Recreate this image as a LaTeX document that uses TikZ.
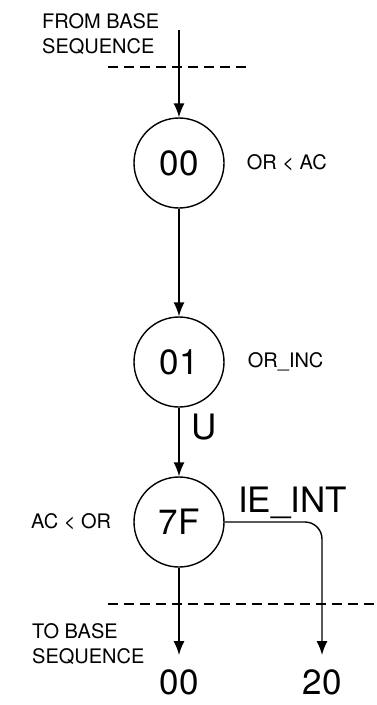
\documentclass[tikz,border=0pt]{standalone}
\usepackage{fontspec}
\setmainfont{TeX Gyre Heros}
\usetikzlibrary{arrows.meta,positioning}

\begin{document}
\begin{tikzpicture}[x=1pt,y=1pt,
        state/.style={
          circle, draw, line width=1.4pt,
          minimum size=90pt, inner sep=0pt,
          font=\fontsize{35}{35}\selectfont
        },
        note/.style={font=\fontsize{20}{25}\selectfont, align=left, inner sep=0pt},
        big/.style={font=\fontsize{35}{35}\selectfont, inner sep=0pt},
        exit/.style={big, outer ysep=15pt},
        flow/.style={-{Latex[length=14pt,width=11pt]}, line width=1.4pt},
        cut/.style={dash pattern=on 10pt off 6pt, line width=1.2pt}]

        \useasboundingbox (0,0) rectangle (377,-705);

        % States
        \node (s00) [state] at (179,-163) {00};
        \node (s01) [state] at (179,-362) {01};
        \node (s7F) [state] at (179,-522) {7F};

        % Entry and exits
        \coordinate (entry) at (179,-30);
        \node (out00) [exit, anchor=north] at (179,-655) {00};
        \node (out20) [exit, anchor=north] at (322,-655) {20};

        % Notes
        \node (from) [note, anchor=north west] at (42,-13) {FROM BASE\\SEQUENCE};
        \node (to) [note, anchor=north west] at (32,-623) {TO BASE\\SEQUENCE};
        \node (c00) [note, right=22pt of s00] {OR < AC};
        \node (c01) [note, right=23pt of s01] {OR\_INC};
        \node (c7F) [note, left=22pt of s7F] {AC < OR};
        \node (lblU) [big] at (204,-427) {U};
        \node (lblIE) [big, anchor=base west] at (238,-512) {IE\_INT};

        % Cut lines
        \draw [cut] (108,-67) -- (252,-67);
        \draw [cut] (108,-604) -- (377,-604);

        % Transitions
        \draw [flow] (entry) -- (s00.north);
        \draw [flow] (s00.south) -- (s01.north);
        \draw [flow] (s01.south) -- (s7F.north);
        \draw [flow] (s7F.south) -- (out00.north);
        \draw [flow, rounded corners=17pt] (s7F.east) -| (out20.north);

      \end{tikzpicture}
\end{document}
